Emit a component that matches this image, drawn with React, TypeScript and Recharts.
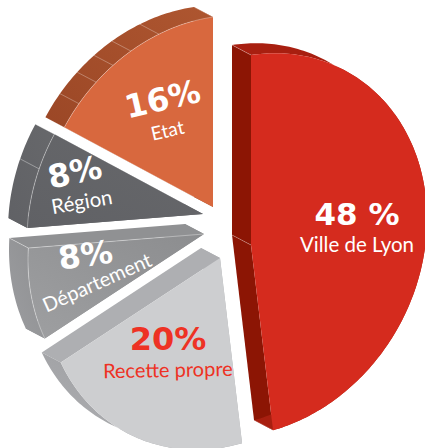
import React from "react";
import { PieChart, Pie } from "recharts";

const names = ["Ville de Lyon", "Recette propre", "Département", "Région", "Etat"];
const values = [48, 20, 8, 8, 16];
const percentLabels = ["48 %", "20%", "8%", "8%", "16%"];

const data = names.map((name, i) => ({ name, value: values[i] }));

// Per-slice explosion: where the slice's apex lands.
const apexes = [[251, 245], [220, 258], [204, 234], [203, 214], [213, 207]];
// The page's perspective: an affine map of the pie's circle and the extrusion vector.
const AX = [0, -190];
const BX = [176, -26];
const DEPTH = [-19, -10];

const faceFrom = ["#d52b1e", "#cdced0", "#9e9fa1", "#606165", "#d8683e"];
const faceTo = ["#d52b1e", "#cdced0", "#8c8d8f", "#67686b", "#d8683e"];
const edgeColours = ["#8c1504", "#aeafb2", "#909193", "#636467", "#a5502c"];
const arcFrom = ["#a81f10", "#b0b1b4", "#9c9da0", "#606165", "#9b4726"];
const arcTo = ["#a81f10", "#96979a", "#8e8f91", "#67686b", "#ae5630"];
const seamOpacity = [0.45, 0, 0.6, 0.6, 0.5];
const facets = [[0, 172.8], [], [273.6], [291.4, 302.4], [310.4, 318.4, 325.4, 332.2, 342.1, 360]];

const labelColours = ["#ffffff", "#ee3224", "#ffffff", "#ffffff", "#ffffff"];
const bigPos = [[357, 225], [168, 350], [87, 266], [77, 183], [165, 110]];
const bigRot = [0, 0, -8, -12, -13];
const bigSize = [31, 32, 32, 32, 32];
const smallPos = [[357, 252], [168, 377], [100, 289], [83, 209], [169, 137]];
const smallRot = [0, -1, -24, -10, -13];
const smallSize = [20.5, 20, 20, 20.5, 19];

const point = (apex: number[], deg: number) => {
  const t = (deg * Math.PI) / 180;
  return [
    apex[0] + AX[0] * Math.cos(t) + BX[0] * Math.sin(t),
    apex[1] + AX[1] * Math.cos(t) + BX[1] * Math.sin(t),
  ];
};
const shift = (p: number[]) => [p[0] + DEPTH[0], p[1] + DEPTH[1]];
const toPath = (pts: number[][], close = true) =>
  "M" + pts.map((p) => `${p[0].toFixed(2)},${p[1].toFixed(2)}`).join("L") + (close ? "Z" : "");

const Slice = (props: any) => {
  const i = props.index ?? names.indexOf(props.name);
  const a0 = 90 - props.startAngle;
  const a1 = 90 - props.endAngle;
  const apex = apexes[i];
  const arc: number[][] = [];
  const steps = Math.ceil(a1 - a0);
  for (let s = 0; s <= steps; s++) arc.push(point(apex, a0 + ((a1 - a0) * s) / steps));
  const outline = [apex, ...arc];
  const first = arc[0];
  const last = arc[arc.length - 1];
  const arcSide = [...arc, ...[...arc].reverse().map(shift)];
  const seam = seamOpacity[i];
  return (
    <g>
      <defs>
        <linearGradient id={`face${i}`} x1="0" y1="1" x2="1" y2="0">
          <stop offset="0" stopColor={faceFrom[i]} />
          <stop offset="1" stopColor={faceTo[i]} />
        </linearGradient>
        <linearGradient id={`arc${i}`} x1="0" y1="1" x2="1" y2="0">
          <stop offset="0" stopColor={arcFrom[i]} />
          <stop offset="1" stopColor={arcTo[i]} />
        </linearGradient>
      </defs>
      <path d={toPath([apex, first, shift(first), shift(apex)])} fill={edgeColours[i]} />
      <path d={toPath([apex, last, shift(last), shift(apex)])} fill={edgeColours[i]} />
      <path d={toPath(arcSide)} fill={`url(#arc${i})`} />
      <path d={toPath(outline)} fill={`url(#face${i})`} />
      {seam > 0 && (
        <g fill="none" stroke="#ffffff" strokeOpacity={seam} strokeWidth={0.6}>
          {facets[i].map((deg) => {
            const p = point(apex, deg);
            return <path key={deg} d={toPath([p, shift(p)], false)} />;
          })}
          {i !== 0 && <path d={toPath(arc, false)} />}
          {i === 0 && <path d={toPath([apex, shift(apex)], false)} />}
          {i === 2 && <path d={toPath([apex, last], false)} />}
        </g>
      )}
    </g>
  );
};

const SliceLabel = (props: any) => {
  const i = props.index;
  return (
    <g fill={labelColours[i]} textAnchor="middle">
      <text
        x={bigPos[i][0]}
        y={bigPos[i][1]}
        fontFamily="'DejaVu Sans', sans-serif"
        fontSize={bigSize[i]}
        fontWeight={700}
        transform={`rotate(${bigRot[i]} ${bigPos[i][0]} ${bigPos[i][1]})`}
      >
        {percentLabels[i]}
      </text>
      <text
        x={smallPos[i][0]}
        y={smallPos[i][1]}
        fontFamily="Lato, sans-serif"
        fontSize={smallSize[i]}
        transform={`rotate(${smallRot[i]} ${smallPos[i][0]} ${smallPos[i][1]})`}
      >
        {names[i]}
      </text>
    </g>
  );
};

export default function App() {
  return (
    <div style={{ position: "fixed", left: 0, top: 0, width: 425, height: 448, background: "#fff" }}>
      <PieChart width={425} height={448} margin={{ top: 0, right: 0, bottom: 0, left: 0 }}>
        <Pie
          data={data}
          dataKey="value"
          nameKey="name"
          cx={212}
          cy={224}
          outerRadius={190}
          startAngle={90}
          endAngle={-270}
          paddingAngle={0}
          stroke="none"
          isAnimationActive={false}
          shape={Slice}
          label={SliceLabel}
          labelLine={false}
        />
      </PieChart>
    </div>
  );
}
